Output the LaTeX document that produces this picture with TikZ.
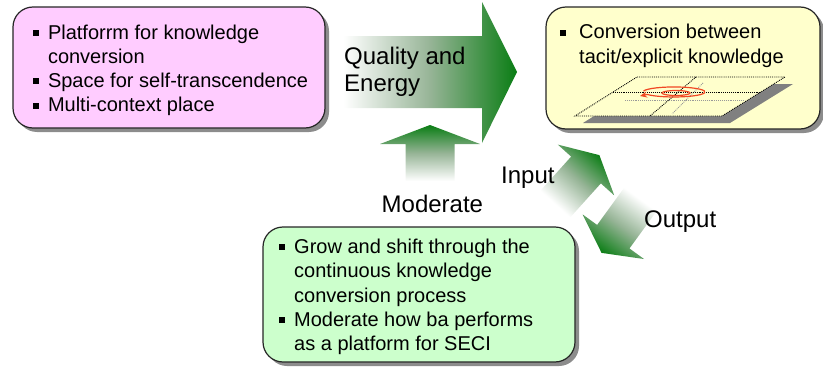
\documentclass[tikz,border=0pt]{standalone}
\usepackage{fontspec}
\setmainfont{Liberation Sans}
\usetikzlibrary{shadows,arrows.meta}

\definecolor{bapink}{RGB}{255,204,255}
\definecolor{bayellow}{RGB}{255,255,204}
\definecolor{bagreen}{RGB}{204,255,204}
\definecolor{fademid}{RGB}{150,180,150}
\definecolor{arrowgreen}{RGB}{10,125,20}
\definecolor{spiralred}{RGB}{240,72,36}

\pgfdeclarehorizontalshading{greenfade}{100bp}{color(0bp)=(white); color(35bp)=(white); color(55bp)=(fademid); color(75bp)=(arrowgreen); color(100bp)=(arrowgreen)}

\tikzset{
	babox/.style={rectangle, rounded corners=20pt, draw=black!85, line width=1.2pt,
		drop shadow={shadow xshift=4pt, shadow yshift=-4pt, fill=black!45, opacity=1}},
	listtext/.style={inner sep=0pt, anchor=base west, font=\fontsize{20}{24.3}\selectfont},
	flowlabel/.style={inner sep=0pt, anchor=base west, font=\fontsize{24}{27}\selectfont},
	fatarrow/.style={shading=greenfade, draw=none},
	planeline/.style={densely dotted, line width=0.9pt},
	spiralpen/.style={draw=spiralred, line width=1.2pt}
}

\newcommand{\sqbullet}{\rule[3.3pt]{6pt}{6pt}}
\newcommand{\baitems}[2]{\begin{tabular}[t]{@{}l@{\hspace{#1}}l@{}}#2\end{tabular}}

\begin{document}
\begin{tikzpicture}[x=1pt,y=1pt]
	\useasboundingbox (0,0) rectangle (823,368);
	% block arrows
	\shade[fatarrow, shading angle=0] (300,260) -- (482,260) -- (482,225) -- (517,296)
		-- (482,366) -- (482,332) -- (300,332) -- cycle;
	\shade[fatarrow, shading angle=90] (405.5,173) -- (405.5,224) -- (380,224) -- (430,243)
		-- (480,224) -- (454.5,224) -- (454.5,173) -- cycle;
	\begin{scope}[shift={(586,198)}, rotate=48]
		\shade[fatarrow, shading angle=48] (-60,-20) -- (0,-20) -- (0,-38) -- (20,0)
			-- (0,38) -- (0,20) -- (-60,20) -- cycle;
	\end{scope}
	\begin{scope}[shift={(613.3,131.3)}, rotate=234]
		\shade[fatarrow, shading angle=234] (-60,-20) -- (0,-20) -- (0,-38) -- (20,0)
			-- (0,38) -- (0,20) -- (-60,20) -- cycle;
	\end{scope}
	% boxes
	\node[babox, fill=bapink, minimum width=312pt, minimum height=121pt] (ba) at (169,300.5) {};
	\node[babox, fill=bayellow, minimum width=274pt, minimum height=122pt] (seci) at (683,300) {};
	\node[babox, fill=bagreen, minimum width=312pt, minimum height=135pt] (kasset) at (419,73.5) {};
	\node[listtext] (batext) at (32.3,329) {\baitems{9.5pt}{\sqbullet & Platforrm for knowledge\\
		& conversion\\ \sqbullet & Space for self-transcendence\\ \sqbullet & Multi-context place}};
	\node[listtext] (secitext) at (559.5,329.2) {\baitems{13.5pt}{\sqbullet & Conversion between\\
		& tacit/explicit knowledge}};
	\node[listtext] (kassettext) at (279,114.5) {\baitems{9pt}{\sqbullet & Grow and shift through the\\
		& continuous knowledge\\ & conversion process\\ \sqbullet & Moderate how ba performs\\
		& as a platform for SECI}};
	% plane in the SECI box
	\fill[black!50] (645,284) -- (793,284) -- (730,245) -- (583,245) -- cycle;
	\fill[bayellow] (637,291) -- (785,291) -- (722,252) -- (575,252) -- cycle;
	\draw[planeline, black!40] (625,268) -- (743,268);
	\draw[planeline, black!40] (703,285) -- (672,254);
	\draw[planeline] (613,276) -- (760.7,276);
	\draw[planeline] (696,291) -- (650,252);
	\draw[planeline] (637,291) -- (785,291) -- (722,252) -- (575,252) -- cycle;
	\draw[spiralpen] (676,275) ellipse [x radius=14, y radius=2.5];
	\draw[spiralpen, -{Stealth[length=7pt, width=6pt]}] (643.5,276.9)
		arc[start angle=170, end angle=-150, x radius=31, y radius=5] -- (640,272);
	% labels
	\node[flowlabel] (quality) at (344,304) {\begin{tabular}[t]{@{}l@{}}Quality and\\Energy\end{tabular}};
	\node[flowlabel] (moderate) at (381.5,156) {Moderate};
	\node[flowlabel] (input) at (501,185) {Input};
	\node[flowlabel] (output) at (644,141) {Output};
\end{tikzpicture}
\end{document}
